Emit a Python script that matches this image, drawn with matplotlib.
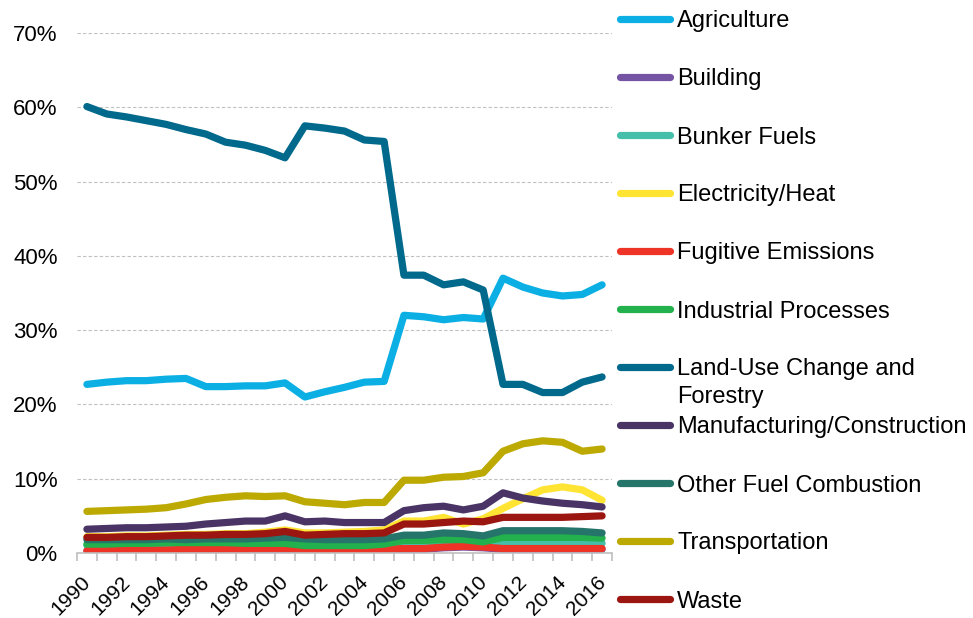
import matplotlib
matplotlib.use("Agg")
import matplotlib.pyplot as plt
import matplotlib.transforms as mtrans
from matplotlib.ticker import FixedLocator, PercentFormatter

plt.rcParams['font.family'] = ['Liberation Sans', 'DejaVu Sans']

years = list(range(1990, 2017))

# shares of total emissions, in percent
agriculture = [22.7, 23.0, 23.2, 23.2, 23.4, 23.5, 22.4, 22.4, 22.5, 22.5, 22.9, 21.0, 21.7, 22.3,
               23.0, 23.1, 32.0, 31.8, 31.4, 31.7, 31.5, 37.0, 35.8, 35.0, 34.6, 34.8, 36.1]
building = [0.3, 0.3, 0.3, 0.3, 0.3, 0.4, 0.4, 0.4, 0.4, 0.5, 0.5, 0.4, 0.3, 0.3,
            0.3, 0.4, 0.5, 0.5, 0.7, 0.8, 0.7, 0.5, 0.5, 0.5, 0.5, 0.5, 0.5]
bunker_fuels = [1.0, 1.0, 1.0, 1.0, 1.0, 1.0, 1.1, 1.1, 1.1, 1.2, 1.2, 1.1, 1.0, 1.0,
                1.0, 1.0, 1.2, 1.2, 1.3, 1.3, 1.2, 1.5, 1.5, 1.5, 1.5, 1.4, 1.3]
electricity = [2.2, 2.2, 2.3, 2.3, 2.4, 2.5, 2.5, 2.6, 2.6, 2.8, 3.1, 2.7, 2.7, 2.8,
               2.9, 3.1, 4.3, 4.3, 4.8, 3.9, 4.6, 6.0, 7.3, 8.5, 8.9, 8.5, 7.1]
fugitive = [0.3, 0.3, 0.4, 0.4, 0.4, 0.5, 0.5, 0.5, 0.5, 0.6, 0.6, 0.5, 0.4, 0.4,
            0.4, 0.5, 0.6, 0.6, 0.8, 0.9, 0.8, 0.6, 0.6, 0.6, 0.6, 0.6, 0.6]
industrial = [1.2, 1.2, 1.3, 1.3, 1.4, 1.4, 1.4, 1.4, 1.3, 1.3, 1.3, 1.0, 1.0, 1.0,
              1.0, 1.2, 1.7, 1.7, 1.8, 1.8, 1.5, 2.1, 2.1, 2.1, 2.1, 2.1, 2.0]
land_use = [60.1, 59.1, 58.7, 58.2, 57.7, 57.0, 56.4, 55.3, 54.9, 54.2, 53.2, 57.5, 57.2, 56.8,
            55.6, 55.4, 37.4, 37.4, 36.1, 36.5, 35.4, 22.7, 22.7, 21.6, 21.6, 23.0, 23.7]
manufacturing = [3.2, 3.3, 3.4, 3.4, 3.5, 3.6, 3.9, 4.1, 4.3, 4.3, 5.0, 4.2, 4.3, 4.1,
                 4.1, 4.1, 5.7, 6.1, 6.3, 5.8, 6.3, 8.1, 7.4, 7.0, 6.7, 6.5, 6.2]
other_fuel = [1.8, 1.8, 1.8, 1.8, 1.9, 1.8, 1.9, 1.9, 1.9, 2.0, 2.1, 1.9, 1.8, 1.8,
              1.8, 1.9, 2.4, 2.4, 2.7, 2.6, 2.3, 3.0, 3.0, 3.0, 3.0, 2.9, 2.7]
transportation = [5.6, 5.7, 5.8, 5.9, 6.1, 6.6, 7.2, 7.5, 7.7, 7.6, 7.7, 6.9, 6.7, 6.5,
                  6.8, 6.8, 9.8, 9.8, 10.2, 10.3, 10.8, 13.7, 14.7, 15.1, 14.9, 13.7, 14.0]
waste = [2.1, 2.1, 2.2, 2.2, 2.3, 2.4, 2.4, 2.5, 2.5, 2.6, 2.9, 2.4, 2.5, 2.6,
         2.6, 2.7, 3.9, 3.9, 4.1, 4.3, 4.2, 4.8, 4.8, 4.8, 4.8, 4.9, 5.0]

labels = ['Agriculture', 'Building', 'Bunker Fuels', 'Electricity/Heat', 'Fugitive Emissions',
          'Industrial Processes', 'Land-Use Change and\nForestry', 'Manufacturing/Construction',
          'Other Fuel Combustion', 'Transportation', 'Waste']
series = [agriculture, building, bunker_fuels, electricity, fugitive, industrial,
          land_use, manufacturing, other_fuel, transportation, waste]
colors = ['#0bafe4', '#7654a4', '#45bfaa', '#ffe433', '#ee3427', '#22b14c',
          '#00698c', '#4a3466', '#25756a', '#bca902', '#9b1511']

fig = plt.figure(figsize=(9.73, 6.18), dpi=100)
ax = fig.add_axes([77 / 973, 1 - 553 / 618, 535 / 973, 520 / 618])

x = list(range(len(years)))
for vals, col, lab in zip(series, colors, labels):
    ax.plot(x, [v / 100 for v in vals], color=col, lw=5.2, solid_capstyle='round',
            solid_joinstyle='round', label=lab)

ax.set_xlim(-0.5, len(years) - 0.5)
ax.set_ylim(0, 0.7)
ax.yaxis.set_major_locator(FixedLocator([i / 10 for i in range(8)]))
ax.yaxis.set_major_formatter(PercentFormatter(1.0, decimals=0))
ax.grid(axis='y', color='#c0c0c0', linestyle=(0, (3, 2)), linewidth=0.8)
ax.set_axisbelow(True)
for side in ['left', 'right', 'top']:
    ax.spines[side].set_visible(False)
ax.spines['bottom'].set_color('#bfbfbf')
ax.spines['bottom'].set_linewidth(1.2)
ax.tick_params(axis='y', length=0, labelsize=16, pad=14)

# tick marks at category boundaries, labels every second year
ax.set_xticks([i - 0.5 for i in range(len(years) + 1)])
ax.set_xticklabels([])
ax.tick_params(axis='x', which='major', length=6, color='#bfbfbf', width=1.2)
ax.set_xticks(x[::2], minor=True)
ax.set_xticklabels([str(y) for y in years[::2]], minor=True, rotation=45, ha='right',
                   va='baseline', rotation_mode='anchor', fontsize=15)
ax.tick_params(axis='x', which='minor', length=0, pad=21.5)
shift = mtrans.ScaledTranslation(4.5 / 100, 0, fig.dpi_scale_trans)
for t in ax.get_xticklabels(minor=True):
    t.set_transform(t.get_transform() + shift)

# legend column on the right
lax = fig.add_axes([0, 0, 1, 1])
lax.set_xlim(0, 973)
lax.set_ylim(618, 0)
lax.axis('off')
for i, (lab, col) in enumerate(zip(labels, colors)):
    yy = 19 + 58 * i
    lax.plot([620, 670], [yy, yy], color=col, lw=5.2, solid_capstyle='round')
    for k, line in enumerate(lab.split('\n')):
        lax.text(677, yy + 28 * k, line, fontsize=17, va='center_baseline')

fig.savefig('out.png', dpi=100)
